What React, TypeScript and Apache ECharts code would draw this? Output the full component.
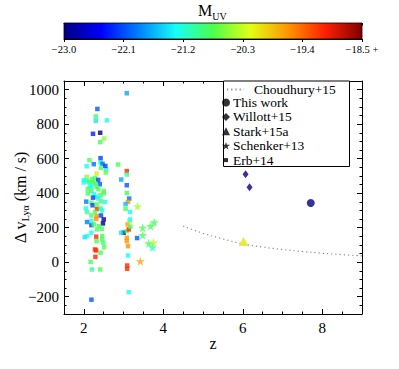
import React, { useEffect, useRef } from 'react';
import * as echarts from 'echarts';

// [z, Δv (km/s), M_UV]
const erbData: number[][] = [
  [3.08, 979, -21.7], [2.34, 888, -22.05], [2.30, 845, -20.8], [2.30, 820, -21.4], [2.58, 822, -21.3],
  [2.23, 744, -22.3], [2.41, 750, -23.3], [2.51, 717, -20.5], [2.41, 696, -20.8], [2.42, 603, -22.15],
  [2.14, 591, -20.8], [2.25, 568, -21.95], [2.42, 578, -21.4], [2.47, 570, -21.95], [2.07, 556, -21.3],
  [2.43, 547, -20.8], [2.56, 539, -21.3], [2.55, 520, -20.7], [2.86, 566, -20.8], [2.32, 514, -20.05],
  [3.08, 528, -19.1], [3.08, 508, -21.0], [2.94, 479, -21.7], [3.08, 446, -22.05], [3.08, 401, -20.8],
  [3.14, 369, -21.95], [3.11, 349, -19.6], [3.05, 337, -21.6], [3.16, 291, -21.3], [2.07, 494, -20.5],
  [2.00, 475, -21.3], [2.08, 471, -21.3], [2.21, 481, -20.8], [2.28, 488, -20.8], [2.36, 477, -22.15],
  [2.40, 452, -22.05], [2.28, 456, -20.8], [2.15, 442, -21.3], [2.36, 423, -20.8], [2.19, 413, -20.8],
  [2.10, 398, -20.8], [2.25, 394, -21.3], [2.42, 388, -20.8], [2.50, 399, -20.8], [2.32, 380, -21.2],
  [2.06, 351, -21.9], [2.19, 345, -20.8], [2.22, 330, -22.15], [2.32, 335, -20.8], [2.43, 353, -20.8],
  [2.53, 349, -21.3], [2.05, 312, -21.3], [2.33, 308, -19.1], [2.42, 312, -20.8], [2.28, 291, -20.8],
  [2.08, 291, -21.0], [2.19, 271, -20.8], [2.32, 267, -19.6], [2.43, 271, -22.15], [2.54, 558, -22.15],
  [2.00, 462, -21.3], [2.13, 465, -20.8], [2.23, 465, -20.8], [2.19, 438, -21.3], [2.32, 438, -20.8],
  [2.10, 423, -20.8], [2.50, 413, -20.8], [2.23, 374, -22.15], [2.36, 369, -21.3], [2.46, 300, -21.3],
  [2.31, 250, -19.6], [2.50, 248, -22.8], [2.19, 215, -22.15], [2.19, 238, -21.3], [2.08, 233, -21.9],
  [2.25, 219, -20.8], [2.48, 225, -23.3], [2.38, 209, -20.8], [2.33, 190, -20.8], [2.45, 194, -20.8],
  [2.19, 171, -21.3], [2.08, 151, -21.3], [2.02, 145, -21.4], [2.31, 148, -19.1], [2.46, 151, -20.8],
  [2.32, 122, -20.8], [2.49, 113, -20.8], [2.51, 87, -20.8], [2.28, 74, -19.1], [2.31, 68, -19.1],
  [2.42, 55, -20.8], [2.29, 31, -19.1], [2.17, 2, -20.8], [2.20, -42, -21.0], [2.41, -42, -20.8],
  [2.19, -217, -22.05], [3.00, 171, -23.3], [2.94, 171, -21.4], [3.08, 180, -20.8], [3.13, 190, -19.1],
  [3.10, 219, -19.7], [3.15, 238, -20.4], [3.16, 248, -21.3], [3.05, 310, -20.8], [3.08, 142, -19.6],
  [3.08, 122, -19.6], [3.11, 93, -19.6], [3.11, 39, -21.3], [3.09, -19, -19.1], [3.09, -38, -19.1],
  [3.13, -174, -21.3], [3.34, 140, -22.05], [3.17, 206, -20.8], [2.46, 132, -20.8],
];
const schenkerData: number[][] = [
  [3.35, 324, -20.4], [3.48, 200, -20.8], [3.48, 157, -20.8], [3.63, 110, -20.8], [3.68, 209, -20.8],
  [3.77, 231, -20.8], [3.75, 114, -20.4], [3.73, 87, -21.1], [3.42, 6, -19.7],
];
const willottData: number[][] = [[6.07, 510, -23.3], [6.17, 434, -23.3]];
const starkData: number[][] = [[6.02, 120, -20.05]];
const thisWorkData: number[][] = [[7.71, 343, -23.3]];
const choudhuryZ = [4.5, 5, 5.5, 6, 6.5, 7, 7.5, 8, 8.5, 9];
const choudhuryV = [209, 168, 135, 106, 88, 74, 62, 52, 44, 37];

const xMajorTicks = [2, 4, 6, 8];
const yMajorTicks = [-200, 0, 200, 400, 600, 800, 1000];
const cbarTicks = [-23.0, -22.1, -21.2, -20.3, -19.4, -18.5];
const cbarMinorTicks = [
  -23, -22.82, -22.64, -22.46, -22.28, -22.1, -21.92, -21.74, -21.56, -21.38, -21.2, -21.02, -20.84,
  -20.66, -20.48, -20.3, -20.12, -19.94, -19.76, -19.58, -19.4, -19.22, -19.04, -18.86, -18.68, -18.5,
];
const jetColors = ['#000080', '#0000FF', '#0080FF', '#15FFF7', '#4CFF4C', '#E2FF14', '#FF9700', '#FF2000', '#800000'];

const FONT = '"Liberation Serif", "DejaVu Serif", serif';
const starPath = 'path://M50,0 L61,35 L98,35 L68,57 L79,91 L50,70 L21,91 L32,57 L2,35 L39,35 Z';
const smallSquare = 'path://M0,0 M10,10 M2.5,2.5 L7.5,2.5 L7.5,7.5 L2.5,7.5 Z';
const minus = (v: number, d = 0) => (v < 0 ? '\u2212' : '') + Math.abs(v).toFixed(d);
const near = (arr: number[], v: number) => arr.some((t) => Math.abs(t - v) < 1e-6);
const rt = (s: string) => (s === '' ? '' : '{t|' + s + '}');
const richT = (fontSize: number, lineHeight?: number) => ({
  t: { fontFamily: FONT, fontSize, color: '#000', fontWeight: 'normal', ...(lineHeight ? { lineHeight } : {}) },
});

export default function App() {
  const ref = useRef<HTMLDivElement>(null);
  useEffect(() => {
    document.body.style.margin = '0';
    const chart = echarts.init(ref.current!, null, { renderer: 'svg' });
    const black = '#000';
    const mainGrid = { left: 64, right: 37, top: 81, bottom: 55, outerBoundsMode: 'none', containLabel: false };
    const tickStyle = { color: black, width: 1 };
    const xBase = { gridIndex: 0, type: 'value', min: 1.5, max: 9, splitLine: { show: false } };
    const yBase = { gridIndex: 0, type: 'value', min: -300, max: 1050, splitLine: { show: false } };
    const option: any = {
      animation: false,
      backgroundColor: '#fff',
      textStyle: { fontFamily: FONT },
      title: {
        text: '{m|M}{s|UV}',
        left: 198,
        top: 0,
        padding: 0,
        textStyle: {
          fontWeight: 'normal',
          rich: {
            m: { fontFamily: FONT, fontSize: 16, fontWeight: 'normal', color: black, lineHeight: 21 },
            s: { fontFamily: FONT, fontSize: 10, fontWeight: 'normal', color: black, verticalAlign: 'bottom', lineHeight: 13 },
          },
        },
      },
      grid: [mainGrid, { left: 64, right: 37, top: 23, height: 16, outerBoundsMode: 'none', containLabel: false }],
      visualMap: {
        show: false,
        type: 'continuous',
        seriesIndex: [1, 2, 3, 4, 5],
        dimension: 2,
        min: -23,
        max: -18.5,
        inRange: { color: jetColors },
        outOfRange: { color: '#4A12D6' },
      },
      xAxis: [
        {
          ...xBase,
          position: 'bottom',
          interval: 0.5,
          axisLine: { show: true, onZero: false, lineStyle: tickStyle },
          axisTick: { show: true, inside: true, length: 2.5, lineStyle: tickStyle },
          axisLabel: {
            formatter: (v: number) => rt(near(xMajorTicks, v) ? String(Math.round(v)) : ''),
            rich: richT(15), margin: 6,
          },
          name: '{t|z}',
          nameLocation: 'middle',
          nameMoveOverlap: false,
          nameGap: 21,
          nameTextStyle: { rich: richT(16) },
        },
        {
          ...xBase,
          position: 'bottom',
          axisLine: { show: false, onZero: false },
          axisTick: { show: true, inside: true, length: 5, lineStyle: tickStyle, customValues: xMajorTicks },
          axisLabel: { show: false },
        },
        {
          ...xBase,
          position: 'top',
          interval: 0.5,
          axisLine: { show: true, onZero: false, lineStyle: tickStyle },
          axisTick: { show: true, inside: true, length: 2.5, lineStyle: tickStyle },
          axisLabel: { show: false },
        },
        {
          ...xBase,
          position: 'top',
          axisLine: { show: false, onZero: false },
          axisTick: { show: true, inside: true, length: 5, lineStyle: tickStyle, customValues: xMajorTicks },
          axisLabel: { show: false },
        },
        {
          gridIndex: 1, type: 'value', position: 'bottom', min: -23, max: -18.5,
          splitLine: { show: false },
          axisLine: { show: true, onZero: false, lineStyle: tickStyle },
          axisTick: { show: true, inside: false, length: 3, lineStyle: tickStyle, customValues: cbarTicks },
          axisLabel: {
            customValues: cbarTicks,
            formatter: (v: number) => rt(minus(v, 1) + (Math.abs(v + 18.5) < 1e-6 ? ' +' : '')),
            rich: richT(10.5), margin: 5,
          },
        },
        {
          gridIndex: 1, type: 'value', position: 'top', min: -23, max: -18.5,
          splitLine: { show: false },
          axisLine: { show: true, onZero: false, lineStyle: tickStyle },
          axisTick: { show: true, inside: true, length: 2.5, lineStyle: tickStyle, customValues: cbarMinorTicks },
          axisLabel: { show: false },
        },
      ],
      yAxis: [
        {
          ...yBase,
          position: 'left',
          interval: 50,
          axisLine: { show: true, onZero: false, lineStyle: tickStyle },
          axisTick: { show: true, inside: true, length: 2.5, lineStyle: tickStyle },
          axisLabel: {
            formatter: (v: number) => rt(near(yMajorTicks, v) ? minus(Math.round(v)) : ''),
            rich: richT(15), margin: 5,
          },
          name: '{a|\u0394 v}{s|Ly\u03b1}{a| (km / s)}',
          nameLocation: 'middle',
          nameMoveOverlap: false,
          nameGap: 34,
          nameTextStyle: {
            rich: {
              a: { fontFamily: FONT, fontSize: 16, color: black, lineHeight: 20 },
              s: { fontFamily: FONT, fontSize: 10, color: black, verticalAlign: 'bottom', lineHeight: 12 },
            },
          },
        },
        {
          ...yBase,
          position: 'left',
          axisLine: { show: false, onZero: false },
          axisTick: { show: true, inside: true, length: 5, lineStyle: tickStyle, customValues: yMajorTicks },
          axisLabel: { show: false },
        },
        {
          ...yBase,
          position: 'right',
          interval: 50,
          axisLine: { show: true, onZero: false, lineStyle: tickStyle },
          axisTick: { show: true, inside: true, length: 2.5, lineStyle: tickStyle },
          axisLabel: { show: false },
        },
        {
          ...yBase,
          position: 'right',
          axisLine: { show: false, onZero: false },
          axisTick: { show: true, inside: true, length: 5, lineStyle: tickStyle, customValues: yMajorTicks },
          axisLabel: { show: false },
        },
        { gridIndex: 1, type: 'value', min: 0, max: 1, show: false },
      ],
      legend: [
        {
          data: [{ name: 'Choudhury+15', itemStyle: { color: 'rgba(0,0,0,0)', opacity: 0, borderWidth: 0 } }],
          left: 226,
          top: 82.5,
          padding: 0,
          itemWidth: 17,
          itemHeight: 8,
          selectedMode: false,
          formatter: '{t|{name}}',
          textStyle: { rich: richT(13.5, 13), padding: [0, 0, 0, 5] },
        },
        {
          orient: 'vertical',
          left: 222,
          top: 95.5,
          padding: 0,
          itemGap: 0.4,
          itemWidth: 8,
          itemHeight: 8,
          selectedMode: false,
          formatter: '{t|{name}}',
          textStyle: { rich: richT(13.5, 13), padding: [0, 0, 0, -2] },
          data: [
            { name: 'This work', icon: 'circle', itemStyle: { color: black } },
            { name: 'Willott+15', icon: 'diamond', itemStyle: { color: black } },
            { name: 'Stark+15a', icon: 'triangle', itemStyle: { color: black } },
            { name: 'Schenker+13', icon: starPath, itemStyle: { color: black } },
            { name: 'Erb+14', icon: smallSquare, itemStyle: { color: black } },
          ],
        },
      ],
      graphic: [
        {
          type: 'rect',
          z: 3,
          shape: { x: 223.5, y: 81, width: 126, height: 85.5 },
          style: { fill: '#fff', stroke: black, lineWidth: 1 },
        },
      ],
      series: [
        {
          type: 'line',
          name: 'Choudhury+15',
          xAxisIndex: 0,
          yAxisIndex: 0,
          data: choudhuryZ.map((z, i) => [z, choudhuryV[i]]),
          smooth: true,
          symbol: 'none',
          itemStyle: { color: '#8a8a8a' },
          lineStyle: { color: '#8a8a8a', width: 1.2, type: [1.2, 3] },
          z: 1,
        },
        { type: 'scatter', name: 'This work', xAxisIndex: 0, yAxisIndex: 0, data: thisWorkData, symbol: 'circle', symbolSize: 8, itemStyle: { color: black } },
        { type: 'scatter', name: 'Willott+15', xAxisIndex: 0, yAxisIndex: 0, data: willottData, symbol: 'diamond', symbolSize: [6, 8], itemStyle: { color: black } },
        { type: 'scatter', name: 'Stark+15a', xAxisIndex: 0, yAxisIndex: 0, data: starkData, symbol: 'triangle', symbolSize: [10, 9], itemStyle: { color: black } },
        { type: 'scatter', name: 'Schenker+13', xAxisIndex: 0, yAxisIndex: 0, data: schenkerData, symbol: starPath, symbolSize: 9, itemStyle: { color: black } },
        { type: 'scatter', name: 'Erb+14', xAxisIndex: 0, yAxisIndex: 0, data: erbData, symbol: 'rect', symbolSize: 4.5, itemStyle: { color: black } },
        {
          type: 'custom',
          name: 'colorbar',
          xAxisIndex: 4,
          yAxisIndex: 4,
          data: [[cbarTicks[0], cbarTicks[cbarTicks.length - 1]]],
          encode: { x: [0, 1] },
          renderItem: (params: any, api: any) => {
            const p0 = api.coord([api.value(0), 1]);
            const p1 = api.coord([api.value(1), 0]);
            return {
              type: 'rect',
              shape: { x: p0[0], y: p0[1], width: p1[0] - p0[0], height: p1[1] - p0[1] },
              style: {
                fill: new echarts.graphic.LinearGradient(0, 0, 1, 0,
                  jetColors.map((c, i) => ({ offset: i / (jetColors.length - 1), color: c }))),
                stroke: black,
                lineWidth: 0.8,
              },
            };
          },
        },
      ],
    };
    chart.setOption(option);
    return () => chart.dispose();
  }, []);
  return <div ref={ref} style={{ width: 399, height: 369 }} />;
}
